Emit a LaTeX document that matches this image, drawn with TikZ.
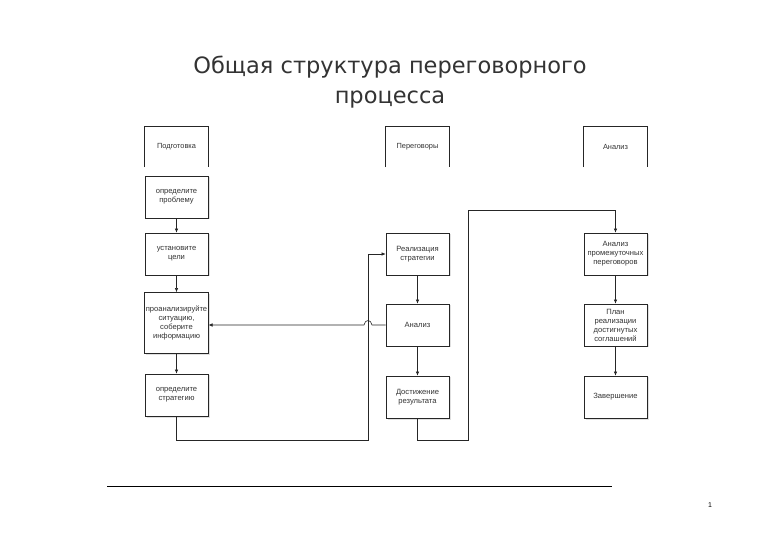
\documentclass[tikz,border=0pt]{standalone}
\usepackage{fontspec}
\setmainfont{Liberation Sans}
\newfontfamily\titlefont{DejaVu Sans}
\usetikzlibrary{arrows.meta,shadows}
\begin{document}
\begin{tikzpicture}[x=1pt,y=-1pt,
  box/.style={draw=black!85,line width=0.7pt,minimum width=63pt,minimum height=42pt,
    inner sep=1pt,align=center,font=\fontsize{7.6}{9}\selectfont,text=black!80,fill=white,
    drop shadow={shadow xshift=1.5pt,shadow yshift=-1.5pt,fill=black!12,opacity=1}},
  hdr/.style={minimum width=63pt,minimum height=40pt,inner sep=0pt,
    font=\fontsize{7.4}{8.4}\selectfont,text=black!80},
  hdrline/.style={draw=black!85,line width=0.7pt},
  conn/.style={draw=black!85,line width=0.6pt},
  arr/.style={conn,-{Latex[length=4pt,width=3.5pt]}}]
\useasboundingbox (0,0) rectangle (780,540);
\fill[white] (0,0) rectangle (780,540);
% title
\node[font=\titlefont\fontsize{22.5}{30}\selectfont,align=center,text=black!80] (title) at (390,82)
  {Общая структура переговорного\\процесса};
% lane headers
\node[hdr] (h1) at (176.5,147) {Подготовка};
\node[hdr] (h2) at (417.5,147) {Переговоры};
\node[hdr] (h3) at (615.5,147) {Анализ};
\foreach \h in {h1,h2,h3}
  \draw[hdrline] (\h.south west) |- (\h.north east) -- (\h.south east);
% column 1
\node[box] (p1) at (176.5,197) {определите\\проблему};
\node[box] (p2) at (176.5,254) {установите\\цели};
\node[box,minimum height=61pt] (p3) at (176.5,323) {проанализируйте\\ситуацию,\\соберите\\информацию};
\node[box] (p4) at (176.5,395) {определите\\стратегию};
% column 2
\node[box] (n1) at (417.5,254) {Реализация\\стратегии};
\node[box] (n2) at (417.5,325) {Анализ};
\node[box] (n3) at (417.5,397) {Достижение\\результата};
% column 3
\node[box] (a1) at (615.5,254) {Анализ\\промежуточных\\переговоров};
\node[box] (a2) at (615.5,325) {План\\реализации\\достигнутых\\соглашений};
\node[box] (a3) at (615.5,397) {Завершение};
% connectors
\coordinate (c2) at (368,440);
\coordinate (c3) at (468,440);
\coordinate (c4) at (468,210);
\coordinate (j1) at (372,325);
\coordinate (j2) at (364,325);
\draw[arr] (p1) -- (p2);
\draw[arr] (p2) -- (p3);
\draw[arr] (p3) -- (p4);
\draw[arr] (p4.south) |- (c2) |- (n1.west);
\draw[arr] (n1) -- (n2);
\draw[arr] (n2) -- (n3);
\draw[arr] (n2.west) -- (j1) .. controls (371,319) and (365,319) .. (j2) -- (n2.west -| p3.east);
\draw[arr] (n3.south) |- (c3) -- (c4) -| (a1.north);
\draw[arr] (a1) -- (a2);
\draw[arr] (a2) -- (a3);
% footer
\draw[line width=0.8pt] (107,486) -- (612,486);
\node[font=\fontsize{7}{8}\selectfont] (pg) at (710,505) {1};
\end{tikzpicture}
\end{document}
